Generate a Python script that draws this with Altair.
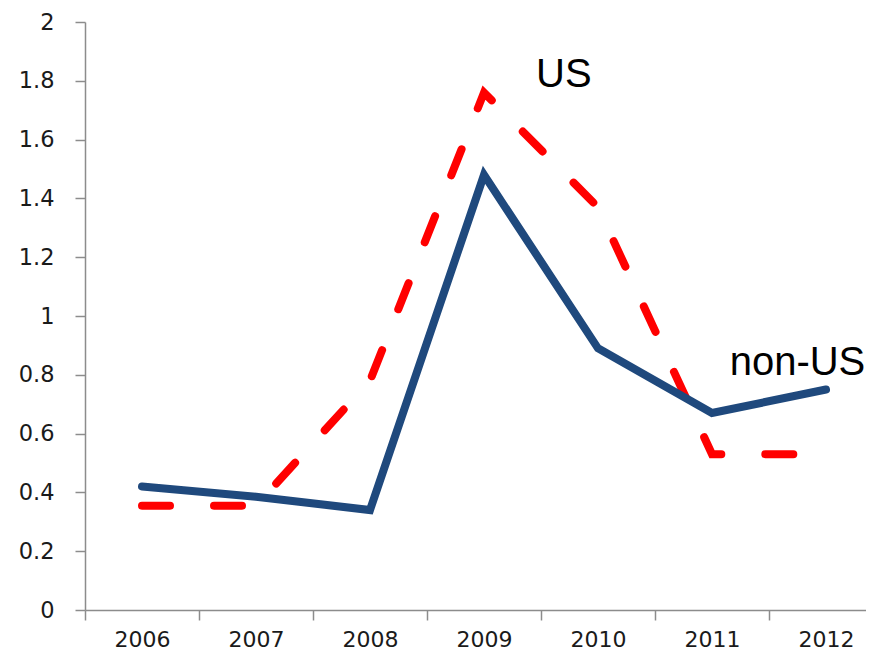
import altair as alt
import pandas as pd

years = [2006, 2007, 2008, 2009, 2010, 2011, 2012]
non_us = [0.42, 0.385, 0.34, 1.48, 0.89, 0.67, 0.75]
us = [0.355, 0.355, 0.78, 1.76, 1.37, 0.53, 0.53]
y_ticks = [0, 0.2, 0.4, 0.6, 0.8, 1, 1.2, 1.4, 1.6, 1.8, 2]

label_text = ["US", "non-US"]
label_x = [2009.70, 2011.155]
label_y = [1.78, 0.80]
label_align = ["center", "left"]

df = pd.DataFrame({"year": years, "nonUS": non_us, "US": us})

W = 781
BAND = 114.0
x_scale = alt.Scale(domain=[2005.5, 2005.5 + W / BAND], nice=False, zero=False)
y_scale = alt.Scale(domain=[0, 2], nice=False)

axis_font = "DejaVu Sans"
x_axis = alt.Axis(
    values=years, title=None, grid=False, format="d",
    tickOffset=-BAND / 2, labelOffset=BAND / 2,
    tickSize=10, labelPadding=9, labelFont=axis_font, labelFontSize=22,
    labelColor="#1a1a1a", domainColor="#8c8c8c", tickColor="#8c8c8c",
    domainWidth=1.5, tickWidth=1.5, labelFlush=False, labelOverlap=False,
)
y_axis = alt.Axis(
    values=y_ticks, title=None, grid=False, format="~g",
    tickSize=10, labelPadding=21, labelFont=axis_font, labelFontSize=22.5,
    labelColor="#1a1a1a", domainColor="#8c8c8c", tickColor="#8c8c8c",
    domainWidth=1.5, tickWidth=1.5, labelFlush=False, labelOverlap=False,
)

base = alt.Chart(df)

us_line = base.mark_line(
    color="#ff0000", strokeWidth=8, strokeDash=[28, 44], strokeCap="round"
).encode(
    x=alt.X("year:Q", scale=x_scale, axis=x_axis),
    y=alt.Y("US:Q", scale=y_scale, axis=y_axis),
)

non_us_line = base.mark_line(
    color="#1f497d", strokeWidth=8, strokeCap="round", strokeJoin="miter"
).encode(
    x=alt.X("year:Q", scale=x_scale),
    y=alt.Y("nonUS:Q", scale=y_scale),
)

lab_df = pd.DataFrame({"text": label_text, "x": label_x, "y": label_y, "align": label_align})
us_label = alt.Chart(lab_df[lab_df["align"] == "center"]).mark_text(
    font="Liberation Sans", fontSize=40, color="black", align="center", baseline="alphabetic"
).encode(x=alt.X("x:Q", scale=x_scale), y=alt.Y("y:Q", scale=y_scale), text="text:N")
non_us_label = alt.Chart(lab_df[lab_df["align"] == "left"]).mark_text(
    font="Liberation Sans", fontSize=40, color="black", align="left", baseline="alphabetic"
).encode(x=alt.X("x:Q", scale=x_scale), y=alt.Y("y:Q", scale=y_scale), text="text:N")

chart = alt.layer(us_line, non_us_line, us_label, non_us_label).properties(
    width=W, height=588,
    autosize=alt.AutoSizeParams(type="none"),
    padding={"left": 77, "top": 14, "right": 0, "bottom": 40},
    background="white",
).configure_view(stroke=None)

chart.save("out.html", embed_options={"renderer": "svg", "actions": False})
